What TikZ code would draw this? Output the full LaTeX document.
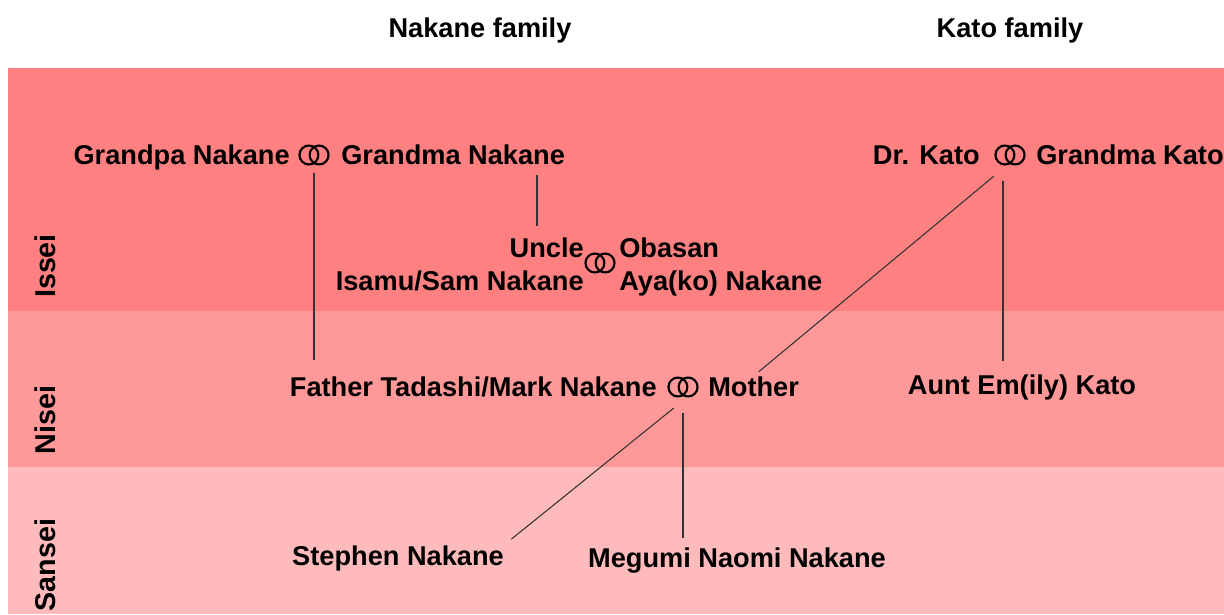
\documentclass[tikz,border=0pt]{standalone}
\usepackage{fontspec}
\setmainfont{Liberation Sans}
\usetikzlibrary{positioning}

\definecolor{isseiband}{RGB}{255,128,128}
\definecolor{niseiband}{RGB}{255,153,153}
\definecolor{sanseiband}{RGB}{255,187,187}

\tikzset{
  person/.style={font=\fontsize{20.4}{24.75}\selectfont\bfseries, inner sep=0pt},
  gen/.style={person, font=\fontsize{21.5}{24}\selectfont\bfseries, rotate=90},
  rings/.style={minimum width=28pt, minimum height=20pt, inner sep=0pt,
    path picture={
      \draw[line width=1.6pt] ([xshift=-3.8pt]path picture bounding box.center) circle (7.1pt);
      \draw[line width=1.6pt] ([xshift=3.8pt]path picture bounding box.center) circle (7.1pt);
    }},
  link/.style={line width=0.8pt, black!80},
}

\begin{document}
\begin{tikzpicture}[x=0.75pt, y=-0.75pt]
    \useasboundingbox (0,0) rectangle (1224,614);

    % generation bands
    \fill[isseiband]  (8,68)  rectangle (1224,311);
    \fill[niseiband]  (8,311) rectangle (1224,467);
    \fill[sanseiband] (8,467) rectangle (1224,614);
    \node[gen] (issei)  at (45,266) {Issei};
    \node[gen] (nisei)  at (45,420) {Nisei};
    \node[gen] (sansei) at (45,565) {Sansei};

    % family headings
    \node[person, anchor=base] (nakanefam) at (480,37) {Nakane family};
    \node[person, anchor=base] (katofam) at (1010,37) {Kato family};

    % first generation
    \node[person, anchor=base east] (grandpaN) at (290,164) {Grandpa Nakane};
    \node[rings] (ringN) at (314,155) {};
    \node[person, anchor=base west] (grandmaN) at (341,164) {Grandma Nakane};

    \node[person, anchor=north east, align=right] (uncle) at (584,238) {Uncle\\Isamu/Sam Nakane};
    \node[rings] (ringU) at (600,263) {};
    \node[person, anchor=north west, align=left] (obasan) at (619,238) {Obasan\\Aya(ko) Nakane};

    \node[person, anchor=base east] (drkato) at (980,164) {Dr. Kato};
    \node[rings] (ringK) at (1010,155) {};
    \node[person, anchor=base west] (grandmaK) at (1036,164) {Grandma Kato};

    % second generation
    \node[person, anchor=base east] (father) at (657,396) {Father Tadashi/Mark Nakane};
    \node[rings] (ringF) at (683,387) {};
    \node[person, anchor=base west] (mother) at (708,396) {Mother};
    \node[person, anchor=base] (aunt) at (1022,394) {Aunt Em(ily) Kato};

    % third generation
    \node[person, anchor=base] (stephen) at (398,565) {Stephen Nakane};
    \node[person, anchor=base] (megumi) at (737,567) {Megumi Naomi Nakane};

    % descent lines
    \coordinate (kinN) at (537,0);
    \coordinate (kinK) at (1003,0);
    \draw[link, shorten <=3pt, shorten >=12pt] (ringN.south) -- (ringN |- father.north);
    \draw[link, shorten <=8pt, shorten >=9pt] (grandmaN.south -| kinN) -- (uncle.north -| kinN);
    \draw[link, shorten <=9pt, shorten >=10pt] (ringK.south -| kinK) -- (aunt.north -| kinK);
    \draw[link, shorten <=9pt, shorten >=5pt] (ringK.south -| kinK) -- (mother.north);
    \draw[link, shorten <=9pt, shorten >=7pt] (ringF.south) -- (stephen.north east);
    \draw[link, shorten <=9pt, shorten >=7pt] (ringF.south) -- (ringF |- megumi.north);
\end{tikzpicture}
\end{document}
